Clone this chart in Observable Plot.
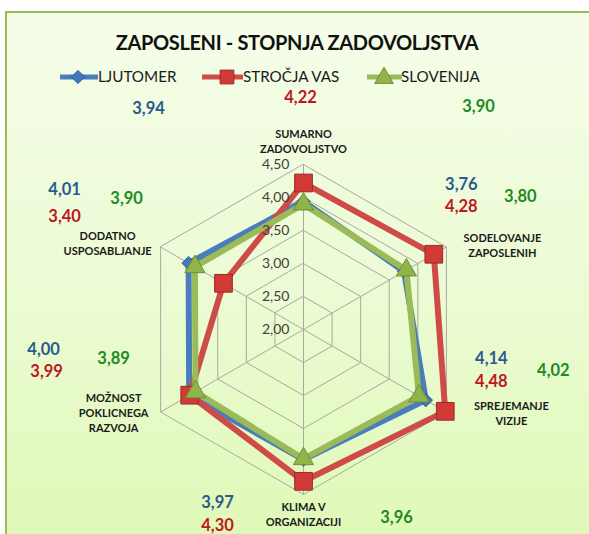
<!DOCTYPE html>
<html>
<head>
<meta charset="utf-8">
<script src="https://cdn.jsdelivr.net/npm/d3@7"></script>
<script src="https://cdn.jsdelivr.net/npm/@observablehq/plot@0.6"></script>
<style>
  html, body { margin: 0; padding: 0; width: 589px; height: 534px; overflow: hidden; font-family: Lato, "Open Sans", sans-serif; }
  #frame { position: absolute; left: 5px; top: 11px; width: 700px; height: 600px;
    border-left: 2px solid #9bbb59; border-top: 2px solid #9bbb59;
    background: linear-gradient(180deg, #f5fde9 0%, #ebfbd2 50%, #dcf8ae 100%); }
  #title { position: absolute; left: 0; top: 29px; width: 594px; text-align: center;
    font-weight: 700; font-size: 20px; letter-spacing: -0.35px; line-height: 26px; color: #111; }
  #legend { position: absolute; left: 0; top: 66px; width: 589px; height: 22px; }
  #chart { position: absolute; left: 0; top: 0; }
</style>
</head>
<body>
<div id="frame"></div>
<div id="title"></div>
<svg id="legend" width="589" height="22"></svg>
<div id="chart"></div>
<script>
// ---- data ----
const categories = [
  "SUMARNO\nZADOVOLJSTVO",
  "SODELOVANJE\nZAPOSLENIH",
  "SPREJEMANJE\nVIZIJE",
  "KLIMA V\nORGANIZACIJI",
  "MOŽNOST\nPOKLICNEGA\nRAZVOJA",
  "DODATNO\nUSPOSABLJANJE"
];
const seriesNames = ["LJUTOMER", "STROČJA VAS", "SLOVENIJA"];
const ljutomer   = [3.94, 3.76, 4.14, 3.97, 4.00, 4.01];
const strocjaVas = [4.22, 4.28, 4.48, 4.30, 3.99, 3.40];
const slovenija  = [3.90, 3.80, 4.02, 3.96, 3.89, 3.90];
const radialTicks = [2.00, 2.50, 3.00, 3.50, 4.00, 4.50];
const titleText = "ZAPOSLENI - STOPNJA ZADOVOLJSTVA";

// ---- styling ----
const seriesValues = [ljutomer, strocjaVas, slovenija];
const lineColors = ["#4a7ebb", "#cf4b48", "#9bbb59"];
const markFill   = ["#3f78c0", "#d23a37", "#8fb54a"];
const markStroke = ["#2a5a94", "#9c2a28", "#6f8f35"];
const labelColors = ["#2a5a8c", "#c0171f", "#1f8a22"];
const symbols = ["diamond2", "square", "triangle"];
const symR = [6, 10, 7.5];

const rMin = 2.0, rMax = 4.5;
const K = 66; // pixels per unit (set by scale ranges below)
const angle = i => i * Math.PI / 3; // clockwise from top
const polar = (v, i) => ({ x: (v - rMin) * Math.sin(angle(i)), y: (v - rMin) * Math.cos(angle(i)) });

const fmt = d3.formatLocale({decimal: ",", thousands: ".", grouping: [3], currency: ["", ""]}).format(".2f");

document.getElementById("title").textContent = titleText;

// grid rings & spokes
const rings = [];
radialTicks.slice(1).forEach(t => categories.forEach((c, i) => rings.push({ring: t, ...polar(t, i)})));
const spokes = categories.map((c, i) => ({x1: 0, y1: 0, x2: polar(rMax, i).x, y2: polar(rMax, i).y}));

// series points
const pts = [];
seriesNames.forEach((s, si) => seriesValues[si].forEach((v, i) => pts.push({series: s, si, cat: i, value: v, ...polar(v, i)})));

// value label layout (pixel offsets from each axis' outer vertex)
const valueOffsets = [
  [[-155, -56], [-3, -67], [175, -58]],
  [[15, -62], [15, -40], [74, -50]],
  [[45, -53], [45, -30], [107, -41]],
  [[-86, 8], [-86, 31], [93, 23]],
  [[-117, -62], [-114, -40], [-47, -53]],
  [[-96, -57], [-96, -30], [-34, -48]]
];
const catOffsets = [[0, -24], [56, -2], [65, 1], [0, 19], [-47, 0], [-53, -4]];

const valueLabels = [];
categories.forEach((c, i) => {
  const o = polar(rMax, i);
  seriesNames.forEach((s, si) => {
    const [dx, dy] = valueOffsets[i][si];
    valueLabels.push({text: fmt(seriesValues[si][i]), si, x: o.x + dx / K, y: o.y - dy / K});
  });
});
const catLabels = categories.map((c, i) => {
  const o = polar(rMax, i);
  const [dx, dy] = catOffsets[i];
  return {text: c, x: o.x + dx / K, y: o.y - dy / K};
});
const tickLabels = radialTicks.map(t => ({text: fmt(t), x: 0, y: t - rMin}));

const marks = [
  Plot.line(rings, {x: "x", y: "y", z: "ring", curve: "linear-closed", stroke: "#a6aaa0", strokeWidth: 1}),
  Plot.link(spokes, {x1: "x1", y1: "y1", x2: "x2", y2: "y2", stroke: "#a6aaa0", strokeWidth: 1})
];
seriesNames.forEach((s, si) => {
  const d = pts.filter(p => p.si === si);
  marks.push(Plot.line(d, {x: "x", y: "y", curve: "linear-closed", stroke: lineColors[si], strokeWidth: 6, strokeLinejoin: "round"}));
  marks.push(Plot.dot(d, {x: "x", y: "y", symbol: symbols[si], r: symR[si], fill: markFill[si], stroke: markStroke[si], strokeWidth: 1}));
});
marks.push(Plot.text(tickLabels, {x: "x", y: "y", text: "text", textAnchor: "end", dx: -14, fontSize: 14, fill: "#404040", fontFamily: "Lato"}));
marks.push(Plot.text(catLabels, {x: "x", y: "y", text: "text", fontSize: 11, fontWeight: 700, fill: "#1a1a1a", lineHeight: 1.38, fontFamily: "Lato"}));
marks.push(Plot.text(valueLabels, {x: "x", y: "y", text: "text", fontSize: 16.5, fontWeight: 700, fill: d => labelColors[d.si], fontFamily: "Lato"}));

const chart = Plot.plot({
  width: 589, height: 534,
  margin: 0,
  x: {domain: [-2.5, 2.5], range: [303 - 2.5 * K, 303 + 2.5 * K], axis: null},
  y: {domain: [-2.5, 2.5], range: [329 + 2.5 * K, 329 - 2.5 * K], axis: null},
  style: {background: "transparent", overflow: "visible"},
  marks
});
document.getElementById("chart").appendChild(chart);

// legend
const lg = d3.select("#legend");
const legendItems = [
  {x1: 60, x2: 98, mx: 78, tx: 98},
  {x1: 202, x2: 243, mx: 227, tx: 243},
  {x1: 367, x2: 402, mx: 384, tx: 401}
];
legendItems.forEach((it, si) => {
  const cy = 11;
  lg.append("line").attr("x1", it.x1).attr("x2", it.x2).attr("y1", cy).attr("y2", cy)
    .attr("stroke", lineColors[si]).attr("stroke-width", 5);
  const sym = d3.symbol().type([d3.symbolDiamond2, d3.symbolSquare, d3.symbolTriangle][si])
    .size([110, 190, 150][si]);
  lg.append("path").attr("d", sym()).attr("transform", `translate(${it.mx},${cy + (si === 2 ? 1 : 0)})`)
    .attr("fill", markFill[si]).attr("stroke", markStroke[si]);
  lg.append("text").attr("x", it.tx).attr("y", cy).attr("dy", "0.36em")
    .attr("font-size", 15.2).attr("font-family", "Lato").attr("fill", "#1a1a1a").text(seriesNames[si]);
});
</script>
</body>
</html>
